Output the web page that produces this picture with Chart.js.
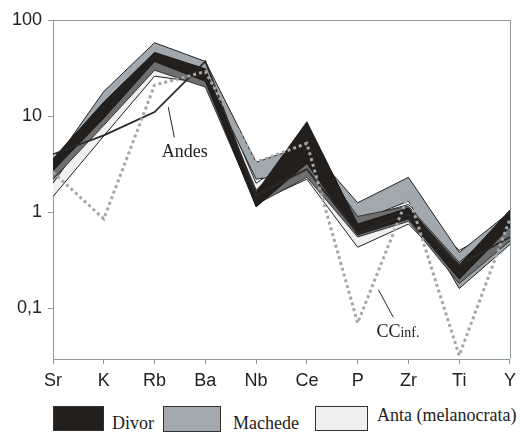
<!DOCTYPE html>
<html>
<head>
<meta charset="utf-8">
<script src="https://cdn.jsdelivr.net/npm/chart.js@4.4.1/dist/chart.umd.min.js"></script>
<style>
  body { margin: 0; background: #fff; }
  #wrap { position: relative; width: 522px; height: 433px; font-family: "Liberation Serif", serif; }
  #c { position: absolute; left: 0; top: 0; }
  .box { position: absolute; border: 1px solid #333; box-sizing: border-box; }
  .lab { position: absolute; font-size: 18px; color: #222; white-space: nowrap; }
</style>
</head>
<body>
<div id="wrap">
  <canvas id="c" width="522" height="400"></canvas>
  <div class="box" style="left:53px;top:406px;width:51px;height:25px;background:#231f1c"></div>
  <div class="lab" style="left:112px;top:413px">Divor</div>
  <div class="box" style="left:163px;top:406px;width:58px;height:26px;background:#a2a9ae"></div>
  <div class="lab" style="left:233px;top:413px">Machede</div>
  <div class="box" style="left:315px;top:406px;width:53px;height:25px;background:#f0f0f2"></div>
  <div class="lab" style="left:377px;top:405px">Anta (melanocrata)</div>
</div>
<script>
const elements = ['Sr', 'K', 'Rb', 'Ba', 'Nb', 'Ce', 'P', 'Zr', 'Ti', 'Y'];
const yTicks = [0.1, 1, 10, 100];

// envelopes of each sample group
const divorHigh = [3.6, 14, 46, 31, 1.6, 8.7, 0.75, 1.1, 0.28, 1.05];
const divorLow = [2.7, 9.5, 37, 23, 1.13, 3.2, 0.58, 0.85, 0.2, 0.7];
const mixedHigh = [3.0, 12, 40, 30, 1.7, 5.0, 0.9, 1.15, 0.3, 0.85];
const mixedLow = [2.2, 8, 30, 20, 1.2, 2.3, 0.55, 0.8, 0.18, 0.5];
const machedeHigh = [3.2, 18, 58, 37, 3.3, 5.0, 1.25, 2.3, 0.38, 1.0];
const machedeLow = [2.0, 11, 38, 27, 2.2, 2.6, 0.8, 1.3, 0.16, 0.46];
const antaHigh = [3.0, 14, 44, 34, 2.0, 4.5, 0.85, 1.2, 0.4, 0.75];
const antaLow = [1.45, 6.2, 26, 22, 1.25, 2.2, 0.43, 0.75, 0.22, 0.5];

// reference patterns
const andes = [4.0, 6.3, 11, 37, 1.5, 2.8, 0.6, 0.95, 0.28, 0.55];
const ccInf = [2.6, 0.85, 21, 29, 3.3, 5.2, 0.07, 1.5, 0.032, 0.85];

function band(data, color, edge, fill) {
  return {
    data: data,
    borderColor: edge,
    borderWidth: 1,
    backgroundColor: color,
    pointRadius: 0,
    fill: fill
  };
}

const extras = {
  id: 'extras',
  afterDraw(chart) {
    const { ctx, chartArea: a, scales } = chart;
    const px = i => scales.x.getPixelForValue(0) + i * (scales.x.getPixelForValue(1) - scales.x.getPixelForValue(0));
    const py = v => scales.y.getPixelForValue(v);
    ctx.save();
    // frame on top and right
    ctx.strokeStyle = '#8f989d';
    ctx.lineWidth = 1;
    ctx.beginPath();
    ctx.moveTo(a.left, a.top + 0.5);
    ctx.lineTo(a.right + 0.5, a.top + 0.5);
    ctx.lineTo(a.right + 0.5, a.bottom);
    ctx.stroke();
    // leader lines
    ctx.strokeStyle = '#222';
    ctx.beginPath();
    ctx.moveTo(px(2.27), py(12.4));
    ctx.lineTo(px(2.39), py(6.0));
    ctx.moveTo(px(6.41), py(0.155));
    ctx.lineTo(px(6.70), py(0.0805));
    ctx.stroke();
    // labels
    ctx.fillStyle = '#222';
    ctx.textBaseline = 'alphabetic';
    ctx.font = '18px "Liberation Serif"';
    ctx.fillText('Andes', px(2.14), py(3.74));
    ctx.fillText('CC', px(6.37), py(0.05));
    const w = ctx.measureText('CC').width;
    ctx.font = '14px "Liberation Serif"';
    ctx.fillText('inf.', px(6.37) + w, py(0.05));
    ctx.restore();
  }
};

new Chart(document.getElementById('c'), {
  type: 'line',
  data: {
    labels: elements,
    datasets: [
      {
        data: ccInf,
        borderColor: '#a6a6a6',
        borderWidth: 3,
        borderDash: [3, 3],
        pointRadius: 0,
        fill: false
      },
      {
        data: andes,
        borderColor: '#2a2a2a',
        borderWidth: 1.8,
        pointRadius: 0,
        fill: false
      },
      band(divorHigh, '#231f1c', '#1a1a1a', false),
      band(divorLow, '#231f1c', '#1a1a1a', '-1'),
      band(mixedHigh, '#6f6f6f', '#333', false),
      band(mixedLow, '#6f6f6f', '#333', '-1'),
      band(machedeHigh, '#a2a9ae', '#222', false),
      band(machedeLow, '#a2a9ae', '#222', '-1'),
      band(antaHigh, '#f0f0f2', '#222', false),
      band(antaLow, '#f0f0f2', '#222', '-1')
    ]
  },
  options: {
    responsive: false,
    animation: false,
    layout: { padding: { top: 20, right: 7, left: 0, bottom: 0 } },
    plugins: { legend: { display: false }, tooltip: { enabled: false } },
    scales: {
      x: {
        offset: false,
        grid: { drawOnChartArea: false, tickLength: 5, color: '#8f989d' },
        border: { color: '#8f989d' },
        ticks: { font: { family: 'Liberation Sans', size: 18 }, color: '#222', padding: 6, maxRotation: 0 },
        afterFit: s => { s.height = 41; }
      },
      y: {
        type: 'logarithmic',
        min: 0.0295,
        max: 100,
        grid: { drawOnChartArea: false, tickLength: 5, color: '#8f989d' },
        border: { color: '#8f989d' },
        afterBuildTicks: s => { s.ticks = yTicks.map(v => ({ value: v })); },
        ticks: {
          font: { family: 'Liberation Sans', size: 18 },
          color: '#222',
          padding: 6,
          callback: v => String(v).replace('.', ',')
        },
        afterFit: s => { s.width = 53; }
      }
    }
  },
  plugins: [extras]
});
</script>
</body>
</html>
